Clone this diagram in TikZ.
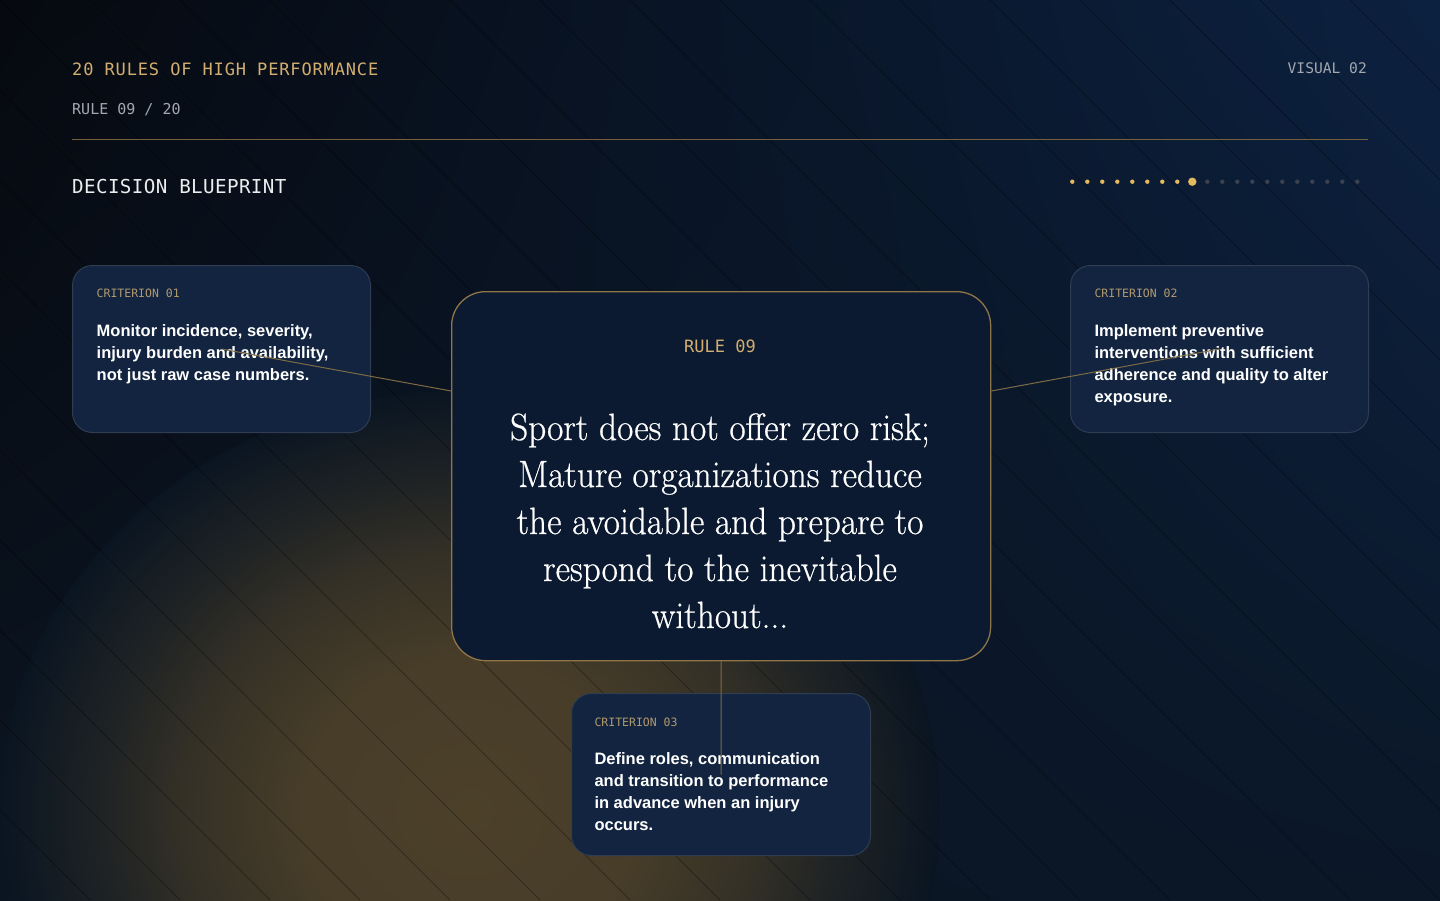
\documentclass[tikz,border=0pt]{standalone}
\usepackage{fontspec}
\usetikzlibrary{calc,shadings}
\newfontfamily\monofont{DejaVu Sans Mono}
\newfontfamily\monofontls[LetterSpace=5]{DejaVu Sans Mono}
\newfontfamily\monofontlsb[LetterSpace=2]{DejaVu Sans Mono}
\newfontfamily\bodyfont{Liberation Sans}
\newfontfamily\quotefont[Extension=.otf,FakeStretch=0.93,FakeBold=0.6]{lmroman17-regular}
\definecolor{gold}{HTML}{D2AE70}
\definecolor{golddim}{HTML}{B29A6E}
\definecolor{greytxt}{HTML}{A3A8B0}
\definecolor{whitetxt}{HTML}{ECEDEF}
\definecolor{dotgold}{HTML}{E3B95E}
\definecolor{dotgrey}{HTML}{3A4250}
\definecolor{rulecol}{HTML}{74603A}
\definecolor{cardfill}{HTML}{12243F}
\definecolor{carddraw}{HTML}{2F3C52}
\definecolor{mainfill}{HTML}{0B1A30}
\definecolor{maindraw}{HTML}{8E7648}
\definecolor{linkcol}{HTML}{7E6B46}
\definecolor{glowcol}{HTML}{4C4029}
\definecolor{bgmid}{HTML}{0A1522}
\definecolor{bgUL}{HTML}{06090F}
\definecolor{bgUR}{HTML}{0C2140}
\definecolor{bgLL}{HTML}{0B1522}
\definecolor{bgLR}{HTML}{0B1727}
\pgfdeclareradialshading{glowshade}{\pgfpointorigin}{%
  color(0bp)=(glowcol); color(9bp)=(glowcol!92!bgmid); color(15bp)=(glowcol!65!bgmid);
  color(20bp)=(glowcol!30!bgmid); color(25bp)=(bgmid); color(50bp)=(bgmid)}
\begin{document}
\begin{tikzpicture}[x=1pt,y=-1pt,
  card/.style={draw=carddraw, fill=cardfill, line width=1pt, rounded corners=20pt, anchor=north west, inner sep=0pt},
  mainbox/.style={draw=maindraw, fill=mainfill, line width=1.3pt, rounded corners=34pt, anchor=north west, inner sep=0pt},
  lab/.style={anchor=base west, inner sep=0pt, text=golddim, font=\monofont\fontsize{11.5}{14}\selectfont},
  body/.style={anchor=base west, inner sep=0pt, align=left, text=white, font=\bodyfont\bfseries\fontsize{16.5}{22}\selectfont},
  link/.style={draw=linkcol, line width=1pt},
  bgline/.style={draw=black, opacity=0.3, line width=0.8pt}]
\useasboundingbox (0,0) rectangle (1440,900);
% background
\begin{scope}
\clip (0,0) rectangle (1440,900);
\shade[upper left=bgUL, upper right=bgUR, lower left=bgLL, lower right=bgLR] (0,0) rectangle (1440,900);
\shade[shading=glowshade] (470,810) ellipse [x radius=470, y radius=420];
\foreach \k in {-10,...,16} { \draw[bgline] (\k*90,0) -- ++(900,900); }
\end{scope}
% header
\node[anchor=base west, inner sep=0pt, text=gold, font=\monofontls\fontsize{17}{20}\selectfont] (title) at (72,75) {20 RULES OF HIGH PERFORMANCE};
\node[anchor=base west, inner sep=0pt, text=greytxt, font=\monofont\fontsize{15}{18}\selectfont] (rulenum) at (72,114) {RULE 09 / 20};
\node[anchor=base east, inner sep=0pt, text=greytxt, font=\monofont\fontsize{14.6}{18}\selectfont] (visual) at (1367,73.5) {VISUAL 02};
\coordinate (hl) at (72,139);
\coordinate (hr) at (1368,139);
\draw[rulecol, line width=1pt] (hl) -- (hr);
\node[anchor=base west, inner sep=0pt, text=whitetxt, font=\monofontlsb\fontsize{19.2}{22}\selectfont] (section) at (72,193.3) {DECISION BLUEPRINT};
% progress dots
\foreach \i in {0,...,19} {
  \pgfmathsetmacro{\dx}{1072.3+15*\i}
  \ifnum\i<8 \fill[dotgold] (\dx,181.7) circle (2.2);
  \else\ifnum\i=8 \fill[dotgold] (\dx,181.7) circle (4.2);
  \else \fill[dotgrey] (\dx,181.7) circle (2.2);
  \fi\fi
}
% cards
\node[card, minimum width=298pt, minimum height=167pt] (c1) at (72,265) {};
\node[card, minimum width=298pt, minimum height=167pt] (c2) at (1070,265) {};
\node[card, minimum width=299pt, minimum height=162pt] (c3) at (571,693) {};
\node[mainbox, minimum width=539pt, minimum height=369pt] (main) at (451,291) {};
% card texts (base anchor = last line)
\node[lab] (c1lab) at (96.5,297.7) {CRITERION 01};
\node[body] (c1txt) at (96.5,380) {Monitor incidence, severity,\\injury burden and availability,\\not just raw case numbers.};
\node[lab] (c2lab) at (1094.3,297.7) {CRITERION 02};
\node[body] (c2txt) at (1094.3,402) {Implement preventive\\interventions with sufficient\\adherence and quality to alter\\exposure.};
\node[lab] (c3lab) at (594.3,726) {CRITERION 03};
\node[body] (c3txt) at (594.3,830.3) {Define roles, communication\\and transition to performance\\in advance when an injury\\occurs.};
% main texts
\node[anchor=base, inner sep=0pt, text=gold, font=\monofont\fontsize{17}{20}\selectfont] (mainlab) at (720,352) {RULE 09};
\node[anchor=base, inner sep=0pt, align=center, text=white, font=\quotefont\fontsize{38}{47}\selectfont] (quote) at (720,628) {Sport does not offer zero risk;\\Mature organizations reduce\\the avoidable and prepare to\\respond to the inevitable\\without...};
% connectors
\draw[link] (c1.center) -- ($(main.north west)!0.27!(main.south west)$);
\draw[link] ($(main.north east)!0.27!(main.south east)$) -- (c2.center);
\draw[link] (main.south) -- (c3.center);
\end{tikzpicture}
\end{document}
